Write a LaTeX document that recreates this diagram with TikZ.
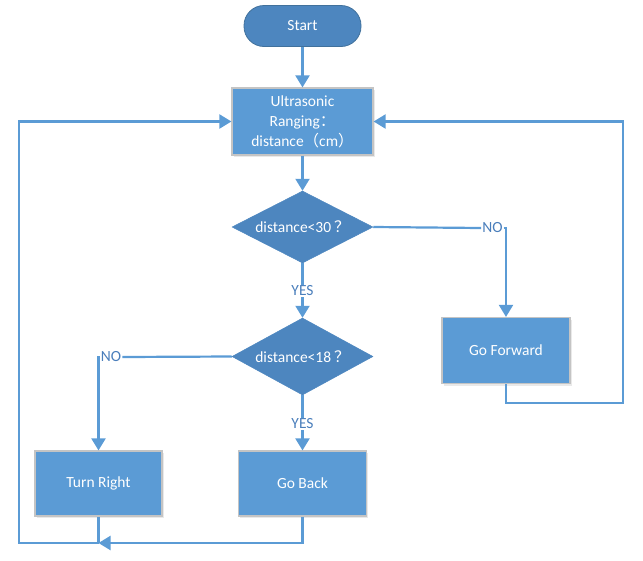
\documentclass[tikz,border=0pt]{standalone}
\usepackage{fontspec}
\setmainfont{Carlito}
\newfontfamily\cjk{Noto Sans CJK SC}
\usetikzlibrary{shapes.geometric,arrows.meta,shadows}
\definecolor{linec}{HTML}{5B9BD5}
\definecolor{boxc}{HTML}{5B9BD5}
\definecolor{darkc}{HTML}{4D86BF}
\definecolor{darkb}{HTML}{41719C}
\definecolor{labc}{HTML}{4A7EBB}
\definecolor{greyb}{HTML}{C4C4C4}
\tikzset{
  txt/.style={text=white,font=\fontsize{15.5}{20}\selectfont,align=center},
  procbox/.style={txt,rectangle,fill=boxc,draw=greyb,line width=1.2pt,
    drop shadow={shadow xshift=1.5pt,shadow yshift=-2pt,fill=gray!50,opacity=0.35}},
  termbox/.style={txt,rectangle,rounded corners=20pt,fill=darkc,draw=darkb,line width=0.8pt,
    minimum width=117pt,minimum height=41pt},
  decbox/.style={txt,diamond,aspect=2,inner sep=0pt,fill=darkc,draw=darkc,line width=0.5pt},
  lab/.style={text=labc,font=\fontsize{15.5}{18}\selectfont,inner sep=1pt},
  conn/.style={draw=linec,line width=2.2pt},
  arr/.style={conn,-{Triangle[width=14pt,length=12pt]}}
}
\begin{document}
\begin{tikzpicture}[x=1pt,y=-1pt]
\useasboundingbox (0,0) rectangle (643,560);
\node[termbox] (start) at (302.5,26) {Start};
\node[procbox,minimum width=141pt,minimum height=67pt] (ultra) at (302.5,121.5)
  {Ultrasonic\\Ranging{\cjk ：}\\distance{\cjk （}cm{\cjk ）}};
\node[decbox,minimum width=141pt,minimum height=72pt] (d1) at (302.5,227) {distance<30\hspace{3pt}{\cjk ？}};
\node[decbox,minimum width=141pt,minimum height=77pt] (d2) at (302.5,356.5) {distance<18\hspace{3pt}{\cjk ？}};
\node[procbox,minimum width=128pt,minimum height=66pt] (fwd) at (506,350.5) {Go Forward};
\node[procbox,minimum width=127pt,minimum height=65pt] (right) at (98.5,483.5) {Turn Right};
\node[procbox,minimum width=128pt,minimum height=65pt] (back) at (302.5,483.5) {Go Back};
\node[lab] (no1) at (492.5,228) {NO};
\node[lab] (yes1) at (302.5,291) {YES};
\node[lab] (no2) at (111,357) {NO};
\node[lab] (yes2) at (302.5,424) {YES};
\coordinate (j) at (98.5,543);
\coordinate (bl) at (19,543);
\coordinate (br) at (623,403);
\draw[arr] (start) -- (ultra);
\draw[arr] (ultra) -- (d1);
\draw[conn] (d1.east) -- (no1.west);
\draw[arr] (no1.east) -| (fwd.north);
\draw[conn] (d1.south) -- (yes1.north);
\draw[arr] (yes1.south) -- (d2.north);
\draw[conn] (d2.west) -- (no2.east);
\draw[arr] (no2.west) -| (right.north);
\draw[conn] (d2.south) -- (yes2.north);
\draw[arr] (yes2.south) -- (back.north);
\draw[arr] (back.south) |- (j);
\draw[conn] (right.south) -- (j);
\draw[arr] (j) -- (bl) |- (ultra.west);
\draw[arr] (fwd.south) |- (br) |- (ultra.east);
\end{tikzpicture}
\end{document}
